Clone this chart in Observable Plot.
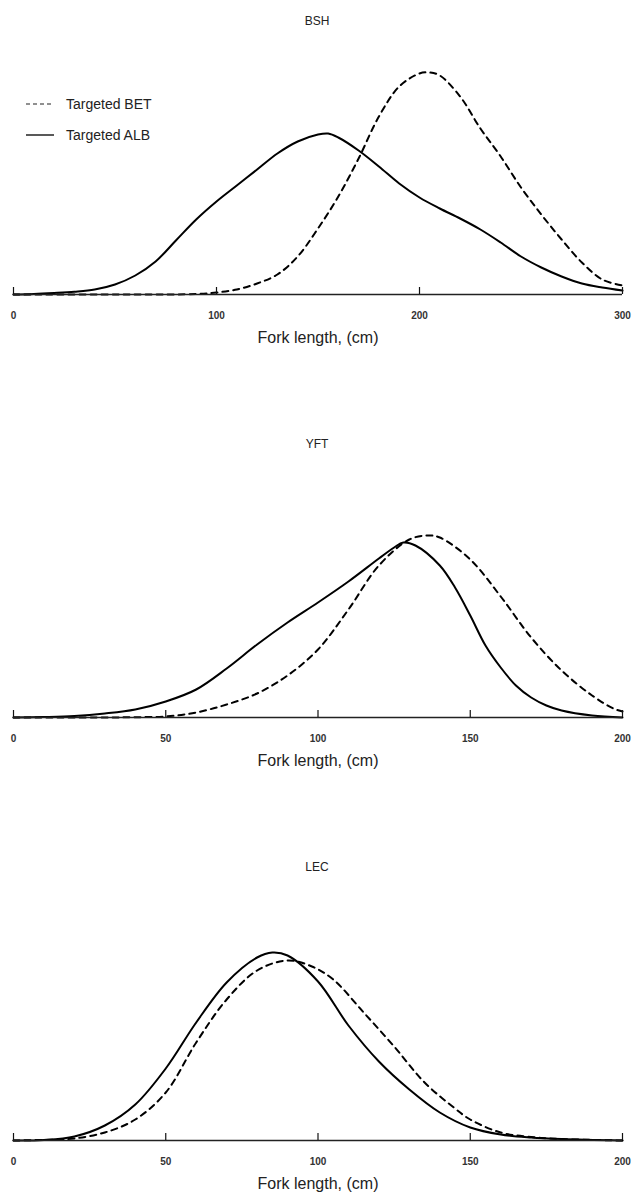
<!DOCTYPE html>
<html>
<head>
<meta charset="utf-8">
<script src="https://cdn.jsdelivr.net/npm/d3@7"></script>
<script src="https://cdn.jsdelivr.net/npm/@observablehq/plot@0.6"></script>
<style>
  body { margin: 0; background: #fff; font-family: Arial, "Liberation Sans", sans-serif; }
  .panel { position: relative; width: 634px; height: 423px; }
  .title { height: 28px; box-sizing: border-box; padding-top: 14px; line-height: 14px; font-size: 12px; text-align: center; color: #222; }
  .legend { position: absolute; left: 26px; top: 88px; font-size: 14px; color: #222; }
  .legend .row { display: flex; align-items: center; height: 31px; }
  .legend svg { margin-right: 12px; }
</style>
</head>
<body>
<div id="chart"></div>
<script>
// Series labels
const series = ["Targeted BET", "Targeted ALB"];
const species = ["BSH", "YFT", "LEC"];
const xMax = [300, 200, 200];
const tickLabels = [[0, 100, 200, 300], [0, 50, 100, 150, 200], [0, 50, 100, 150, 200]];

// BSH - relative frequency vs fork length (cm)
const bshLen_BET = [0, 60, 90, 100, 110, 120, 130, 140, 150, 160, 170, 180, 190, 200, 205, 210, 220, 230, 240, 250, 260, 270, 280, 290, 300];
const bshVal_BET = [0, 0, 0.005, 0.02, 0.05, 0.11, 0.20, 0.38, 0.66, 0.98, 1.36, 1.78, 2.08, 2.21, 2.22, 2.19, 1.98, 1.66, 1.38, 1.07, 0.80, 0.55, 0.32, 0.15, 0.09];
const bshLen_ALB = [0, 10, 20, 30, 40, 50, 60, 70, 80, 90, 100, 110, 120, 130, 140, 150, 155, 160, 170, 180, 190, 200, 210, 220, 230, 240, 250, 260, 270, 280, 290, 300];
const bshVal_ALB = [0, 0.005, 0.015, 0.028, 0.05, 0.10, 0.19, 0.33, 0.54, 0.75, 0.93, 1.09, 1.25, 1.41, 1.53, 1.60, 1.61, 1.57, 1.44, 1.28, 1.11, 0.97, 0.86, 0.76, 0.65, 0.52, 0.38, 0.27, 0.18, 0.11, 0.07, 0.04];

// YFT
const yftLen_BET = [0, 30, 40, 50, 60, 70, 80, 90, 100, 110, 120, 130, 136, 140, 150, 160, 170, 180, 190, 197, 200];
const yftVal_BET = [0, 0, 0.003, 0.01, 0.05, 0.13, 0.24, 0.42, 0.68, 1.08, 1.52, 1.78, 1.82, 1.80, 1.58, 1.21, 0.80, 0.47, 0.22, 0.09, 0.06];
const yftLen_ALB = [0, 10, 20, 30, 40, 50, 60, 70, 80, 90, 100, 110, 120, 125, 128, 132, 140, 145, 150, 155, 160, 165, 170, 175, 180, 190, 200];
const yftVal_ALB = [0, 0.005, 0.015, 0.04, 0.08, 0.16, 0.28, 0.49, 0.73, 0.95, 1.15, 1.36, 1.59, 1.70, 1.75, 1.72, 1.52, 1.30, 1.02, 0.72, 0.50, 0.32, 0.20, 0.12, 0.07, 0.02, 0];

// LEC
const lecLen_BET = [0, 15, 20, 30, 40, 50, 60, 70, 80, 90, 98, 105, 115, 125, 135, 145, 150, 160, 170, 180, 200];
const lecVal_BET = [0, 0.01, 0.02, 0.08, 0.21, 0.48, 0.98, 1.41, 1.70, 1.80, 1.74, 1.61, 1.28, 0.94, 0.58, 0.32, 0.21, 0.08, 0.035, 0.015, 0];
const lecLen_ALB = [0, 10, 20, 30, 40, 50, 60, 70, 80, 85, 90, 100, 110, 120, 130, 140, 150, 160, 170, 180, 200];
const lecVal_ALB = [0, 0.005, 0.04, 0.15, 0.36, 0.72, 1.18, 1.58, 1.83, 1.88, 1.85, 1.59, 1.15, 0.79, 0.51, 0.28, 0.13, 0.06, 0.03, 0.015, 0];

const panels = [
  {BET: [bshLen_BET, bshVal_BET], ALB: [bshLen_ALB, bshVal_ALB]},
  {BET: [yftLen_BET, yftVal_BET], ALB: [yftLen_ALB, yftVal_ALB]},
  {BET: [lecLen_BET, lecVal_BET], ALB: [lecLen_ALB, lecVal_ALB]}
];

const toRows = ([xs, ys], s) => xs.map((x, i) => ({len: x, val: ys[i], series: s}));

const H = 395, MT = 26, MB = 129;
const root = document.getElementById("chart");
panels.forEach((p, i) => {
  const div = document.createElement("div");
  div.className = "panel";
  const t = document.createElement("div");
  t.className = "title";
  t.textContent = species[i];
  div.appendChild(t);
  const bet = toRows(p.BET, series[0]);
  const alb = toRows(p.ALB, series[1]);
  const chart = Plot.plot({
    width: 634,
    height: H,
    marginLeft: 13,
    marginRight: 12,
    marginTop: MT,
    marginBottom: MB,
    style: {fontFamily: "Arial, 'Liberation Sans', sans-serif", background: "#fff", color: "#222"},
    x: {domain: [0, xMax[i]]},
    y: {domain: [0, 2.4], axis: null},
    marks: [
      Plot.line(bet, {x: "len", y: "val", curve: "catmull-rom", stroke: "#000", strokeWidth: 2, strokeDasharray: "6,5"}),
      Plot.line(alb, {x: "len", y: "val", curve: "catmull-rom", stroke: "#000", strokeWidth: 2}),
      Plot.ruleY([0], {stroke: "#222", strokeWidth: 1.5}),
      Plot.tickX(tickLabels[i], {x: d => d, insetTop: H - MT - MB - 7, stroke: "#111", strokeWidth: 1.2}),
      Plot.axisX({ticks: tickLabels[i], tickSize: 0, tickPadding: 17, fontSize: 10, fontWeight: "bold", fill: "#333", tickFormat: d => String(d), label: null}),
      Plot.text(["Fork length, (cm)"], {frameAnchor: "bottom", dy: 48, text: d => d, fontSize: 16, fill: "#222"})
    ]
  });
  div.appendChild(chart);
  if (i === 0) {
    const lg = document.createElement("div");
    lg.className = "legend";
    lg.innerHTML = `
      <div class="row"><svg width="28" height="4"><line x1="0" y1="2" x2="28" y2="2" stroke="#222" stroke-width="1.2" stroke-dasharray="4,3"/></svg><span>${series[0]}</span></div>
      <div class="row"><svg width="28" height="4"><line x1="0" y1="2" x2="28" y2="2" stroke="#222" stroke-width="1.5"/></svg><span>${series[1]}</span></div>`;
    div.appendChild(lg);
  }
  root.appendChild(div);
});
</script>
</body>
</html>
